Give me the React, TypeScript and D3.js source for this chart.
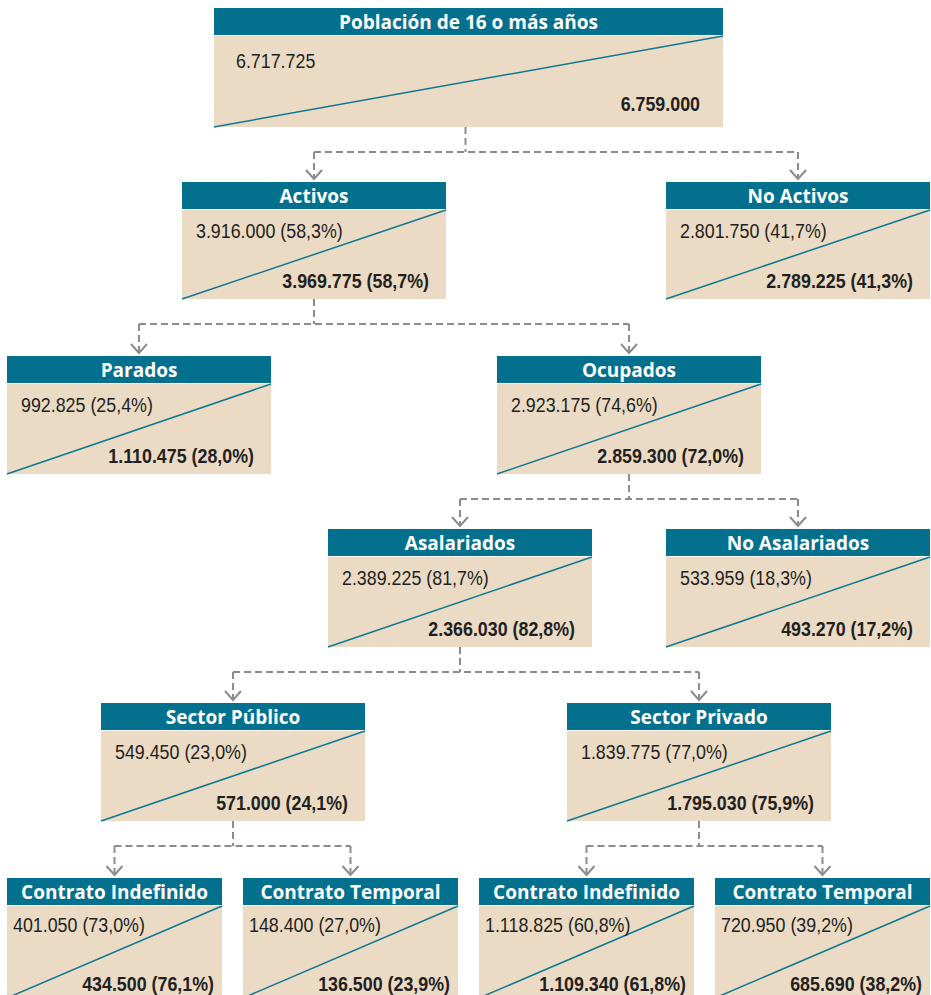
import React, { useEffect, useRef } from 'react';
import * as d3 from 'd3';

// Tree of the population by labour situation
const labels = [
  'Población de 16 o más años',
  'Activos',
  'No Activos',
  'Parados',
  'Ocupados',
  'Asalariados',
  'No Asalariados',
  'Sector Público',
  'Sector Privado',
  'Contrato Indefinido',
  'Contrato Temporal',
  'Contrato Indefinido',
  'Contrato Temporal',
];
const parents = [-1, 0, 0, 1, 1, 4, 4, 5, 5, 7, 7, 8, 8];

const prevValues = [6717725, 3916000, 2801750, 992825, 2923175, 2389225, 533959, 549450, 1839775, 401050, 148400, 1118825, 720950];
const prevPct = [null, 58.3, 41.7, 25.4, 74.6, 81.7, 18.3, 23.0, 77.0, 73.0, 27.0, 60.8, 39.2];
const currValues = [6759000, 3969775, 2789225, 1110475, 2859300, 2366030, 493270, 571000, 1795030, 434500, 136500, 1109340, 685690];
const currPct = [null, 58.7, 41.3, 28.0, 72.0, 82.8, 17.2, 24.1, 75.9, 76.1, 23.9, 61.8, 38.2];

// box geometry: [left, top, width, height]
const boxes: [number, number, number, number][] = [
  [214, 8, 509, 119],
  [182, 182, 264, 117],
  [666, 182, 264, 117],
  [7, 356, 264, 118],
  [497, 356, 264, 118],
  [328, 529, 264, 118],
  [666, 529, 264, 118],
  [101, 703, 264, 118],
  [567, 703, 264, 118],
  [7, 878, 215, 120],
  [243, 878, 215, 120],
  [479, 878, 215, 120],
  [715, 878, 215, 120],
];

const W = 931;
const H = 995;
const HEADER = 27;
const HEADER_BG = '#03708e';
const BODY_BG = '#ebdbc5';
const DIAG = '#0d7893';
const TEXT = '#231f20';
const GREY = '#8c8c8c';
const NUM_FONT = "'Liberation Sans', Arial, sans-serif";
const HEAD_FONT = "'Open Sans', sans-serif";

const es = d3.formatLocale({ decimal: ',', thousands: '.', grouping: [3], currency: ['', '€'] });
const fmtInt = es.format(',d');
const fmtPct = es.format('.1f');
const label = (v: number, p: number | null) => (p === null ? fmtInt(v) : `${fmtInt(v)} (${fmtPct(p)}%)`);

export default function App() {
  const svgRef = useRef<SVGSVGElement>(null);

  useEffect(() => {
    if (!svgRef.current) return;
    const svg = d3.select(svgRef.current);
    svg.selectAll('*').remove();

    const nodes = labels.map((name, i) => ({
      i,
      name,
      x: boxes[i][0],
      y: boxes[i][1],
      w: boxes[i][2],
      h: boxes[i][3],
      cx: boxes[i][0] + boxes[i][2] / 2,
    }));

    // connectors
    const conn = svg.append('g');
    const line = d3.line();
    const dashed = (pts: [number, number][]) =>
      conn.append('path')
        .attr('d', line(pts))
        .attr('stroke', GREY).attr('stroke-width', 2).attr('fill', 'none')
        .attr('stroke-dasharray', '7,4');

    nodes.forEach((p) => {
      const kids = nodes.filter((n) => parents[n.i] === p.i);
      if (!kids.length) return;
      const yb = p.y + p.h;
      const ym = yb + 25;
      const px = p.i === 0 ? p.cx - 3 : p.cx;
      const xs = kids.map((k) => k.cx);
      dashed([[px, yb], [px, ym]]);
      dashed([[d3.min(xs)!, ym], [d3.max(xs)!, ym]]);
      kids.forEach((k) => {
        const tip = k.y - 3;
        dashed([[k.cx, ym], [k.cx, tip - 1]]);
        conn.append('path')
          .attr('d', line([[k.cx - 8, tip - 9], [k.cx, tip], [k.cx + 8, tip - 9]]))
          .attr('stroke', GREY).attr('stroke-width', 2).attr('fill', 'none');
      });
    });

    // boxes
    const g = svg.selectAll('g.node')
      .data(nodes)
      .enter()
      .append('g')
      .attr('class', 'node');

    g.append('rect')
      .attr('x', (d) => d.x).attr('y', (d) => d.y + HEADER + 1)
      .attr('width', (d) => d.w).attr('height', (d) => d.h - HEADER - 1)
      .attr('fill', BODY_BG);

    g.append('rect')
      .attr('x', (d) => d.x).attr('y', (d) => d.y)
      .attr('width', (d) => d.w).attr('height', HEADER)
      .attr('fill', HEADER_BG);

    g.append('line')
      .attr('x1', (d) => d.x).attr('y1', (d) => d.y + d.h)
      .attr('x2', (d) => d.x + d.w).attr('y2', (d) => d.y + HEADER + 1)
      .attr('stroke', DIAG).attr('stroke-width', 1.5);

    g.append('text')
      .attr('x', (d) => d.cx).attr('y', (d) => d.y + HEADER - 6)
      .attr('text-anchor', 'middle')
      .attr('fill', '#fff')
      .style('font-family', HEAD_FONT)
      .style('font-weight', 700)
      .style('font-size', '19px')
      .text((d) => d.name);

    const leftPad = (d: any) => (d.i === 0 ? 22 : d.w < 240 ? 6 : 14);
    const rightPad = (d: any) => (d.i === 0 ? 23 : d.w < 240 ? 8 : 17);
    const topY = (d: any) => d.y + HEADER + (d.i === 0 ? 33 : d.w < 240 ? 27 : 29);
    const botY = (d: any) => (d.i === 0 ? d.y + d.h - 16 : d.i >= 9 ? 991 : d.y + d.h - 11);

    g.append('text')
      .attr('transform', (d) => `translate(${d.x + leftPad(d)},${topY(d)}) scale(0.85,1)`)
      .attr('fill', TEXT)
      .style('font-family', NUM_FONT)
      .style('font-size', '21px')
      .text((d) => label(prevValues[d.i], prevPct[d.i]));

    g.append('text')
      .attr('transform', (d) => `translate(${d.x + d.w - rightPad(d)},${botY(d)}) scale(0.85,1)`)
      .attr('text-anchor', 'end')
      .attr('fill', TEXT)
      .style('font-family', NUM_FONT)
      .style('font-weight', 700)
      .style('font-size', '21px')
      .text((d) => label(currValues[d.i], currPct[d.i]));
  }, []);

  return (
    <svg
      ref={svgRef}
      width={W}
      height={H}
      style={{ position: 'absolute', left: 0, top: 0, background: '#fff' }}
    />
  );
}
